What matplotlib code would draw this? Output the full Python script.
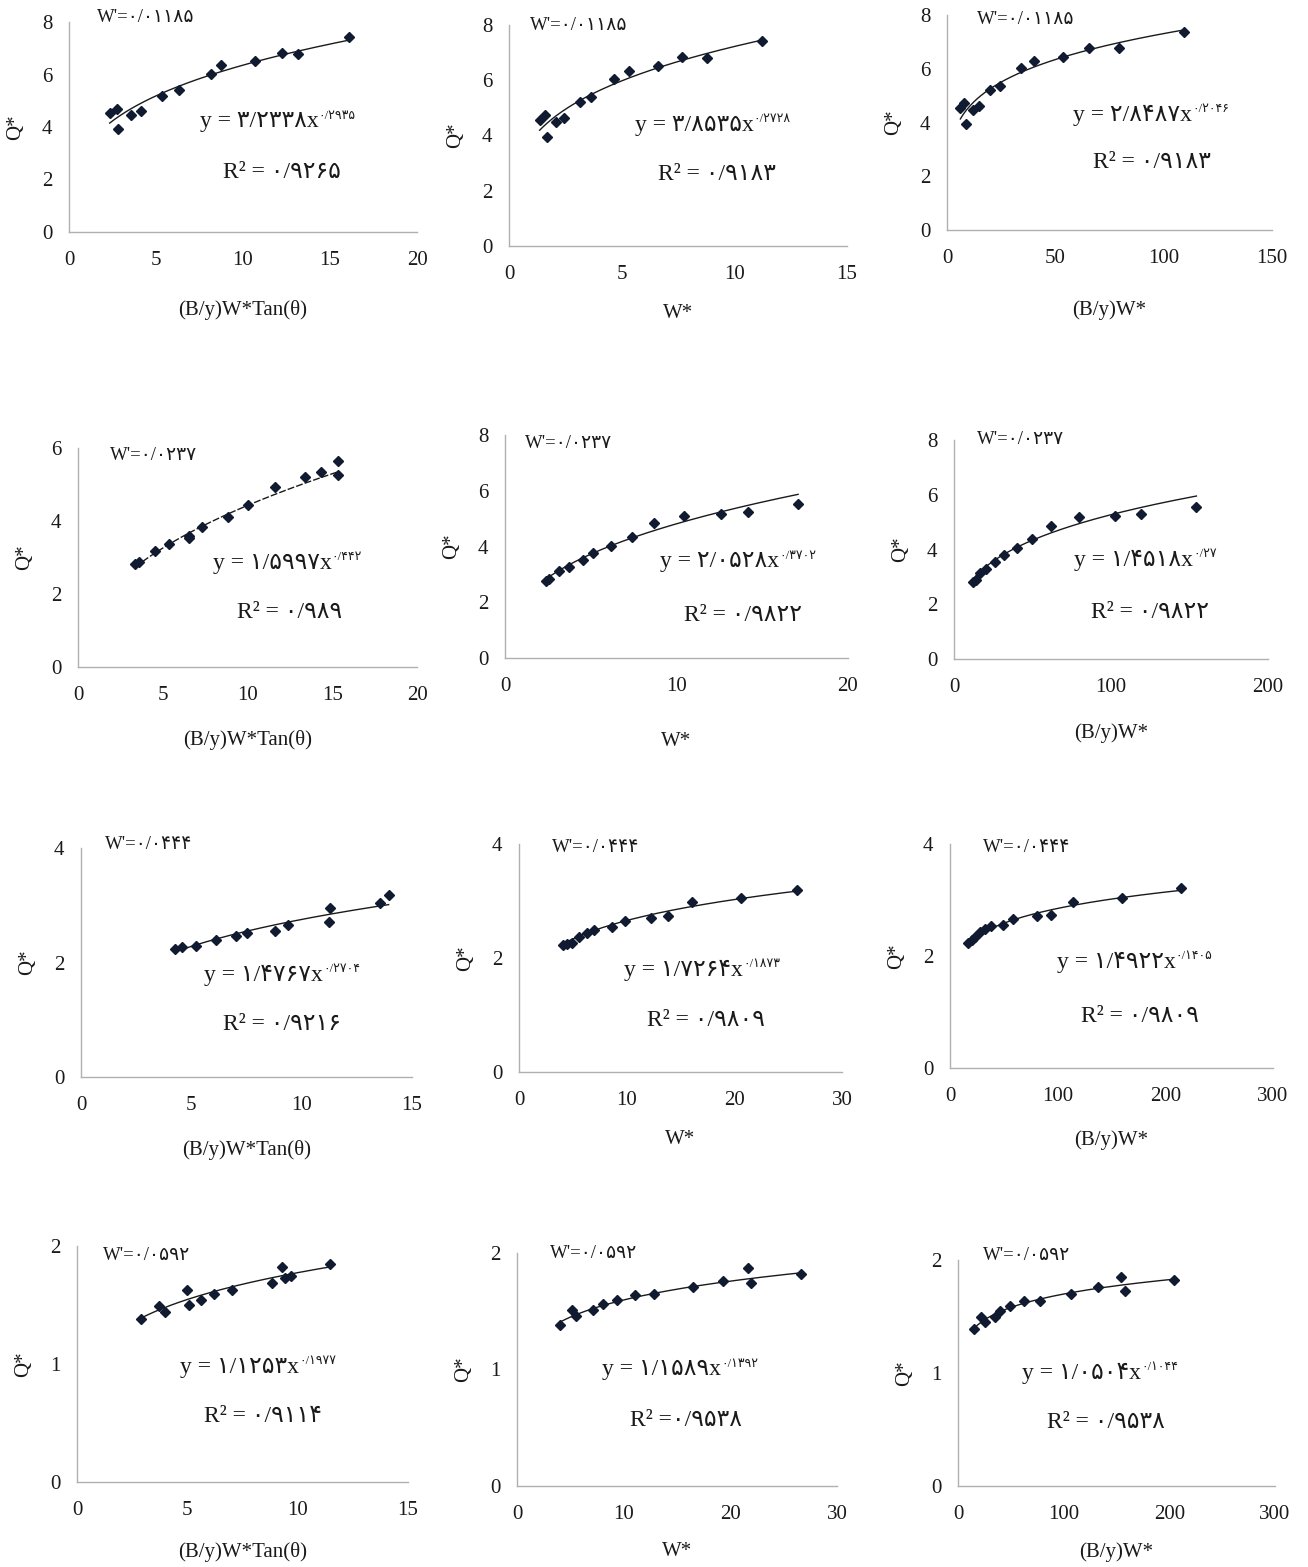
import matplotlib
matplotlib.use("Agg")
import matplotlib.pyplot as plt
import numpy as np

W_PX, H_PX = 1308, 1567
FONT = ['Liberation Serif', 'DejaVu Sans']
plt.rcParams['font.family'] = FONT

# ---------------- data ----------------
x1 = [2.34, 2.73, 2.82, 3.55, 4.11, 5.36, 6.31, 8.14, 8.71, 10.69, 12.23, 13.15, 16.07]
y1 = [4.53, 4.70, 3.91, 4.44, 4.60, 5.17, 5.40, 6.02, 6.37, 6.50, 6.83, 6.79, 7.43]
x2 = [1.36, 1.59, 1.69, 2.07, 2.43, 3.14, 3.65, 4.65, 5.32, 6.60, 7.66, 8.80, 11.22]
y2 = [4.57, 4.74, 3.96, 4.48, 4.62, 5.22, 5.40, 6.04, 6.34, 6.53, 6.85, 6.79, 7.42]
x3 = [6.15, 7.69, 8.92, 12.0, 14.6, 19.7, 24.6, 34.2, 40.0, 53.5, 65.7, 79.2, 109.2]
y3 = [4.55, 4.71, 3.94, 4.47, 4.62, 5.21, 5.37, 6.02, 6.27, 6.45, 6.76, 6.76, 7.36]
x4 = [3.38, 3.58, 4.56, 5.35, 6.53, 6.57, 7.32, 8.83, 10.01, 11.64, 13.41, 14.34, 15.33, 15.33]
y4 = [2.82, 2.89, 3.19, 3.37, 3.60, 3.53, 3.84, 4.11, 4.45, 4.93, 5.20, 5.33, 5.64, 5.27]
x5 = [2.39, 2.58, 3.17, 3.75, 4.52, 5.15, 6.16, 7.38, 8.68, 10.43, 12.62, 14.14, 17.09]
y5 = [2.78, 2.83, 3.13, 3.28, 3.50, 3.76, 4.03, 4.33, 4.84, 5.10, 5.16, 5.22, 5.53]
x6 = [12.1, 13.8, 16.3, 20.6, 25.9, 31.6, 40.3, 49.7, 62.0, 79.4, 102.8, 119.3, 154.4]
y6 = [2.81, 2.89, 3.14, 3.29, 3.53, 3.81, 4.05, 4.39, 4.86, 5.20, 5.24, 5.30, 5.57]
x7 = [4.26, 4.57, 5.20, 6.11, 7.02, 7.52, 8.80, 9.36, 11.22, 11.30, 13.56, 13.94]
y7 = [2.23, 2.27, 2.29, 2.39, 2.47, 2.51, 2.55, 2.66, 2.70, 2.96, 3.04, 3.18]
x8 = [4.12, 4.43, 4.90, 5.58, 6.29, 6.97, 8.61, 9.85, 12.27, 13.82, 16.05, 20.64, 25.81]
y8 = [2.23, 2.25, 2.27, 2.37, 2.44, 2.50, 2.55, 2.65, 2.71, 2.74, 2.98, 3.05, 3.20]
x9 = [17.0, 20.1, 23.2, 27.8, 32.5, 37.7, 49.5, 58.8, 80.4, 93.7, 113.8, 159.3, 214.3]
y9 = [2.24, 2.29, 2.34, 2.42, 2.48, 2.54, 2.55, 2.66, 2.72, 2.74, 2.96, 3.04, 3.21]
x10 = [2.92, 3.70, 3.97, 4.98, 5.06, 5.63, 6.19, 7.02, 8.85, 9.29, 9.41, 9.68, 11.45]
y10 = [1.38, 1.49, 1.44, 1.63, 1.50, 1.54, 1.59, 1.63, 1.69, 1.82, 1.73, 1.75, 1.85]
x11 = [4.07, 5.20, 5.57, 7.14, 8.08, 9.33, 11.06, 12.84, 16.47, 19.35, 21.61, 21.95, 26.62]
y11 = [1.38, 1.51, 1.46, 1.51, 1.56, 1.60, 1.64, 1.65, 1.71, 1.76, 1.87, 1.74, 1.82]
x12 = [15.2, 22.1, 25.3, 34.7, 40.1, 49.6, 62.2, 77.4, 107.4, 132.6, 154.7, 157.9, 204.3]
y12 = [1.39, 1.50, 1.45, 1.50, 1.55, 1.59, 1.64, 1.64, 1.70, 1.76, 1.85, 1.73, 1.82]

xs = [x1, x2, x3, x4, x5, x6, x7, x8, x9, x10, x11, x12]
ys = [y1, y2, y3, y4, y5, y6, y7, y8, y9, y10, y11, y12]

# power-law trendline coefficients  y = a * x**b
fit_a = [3.2338, 3.8535, 2.8487, 1.5997, 2.0528, 1.4518, 1.4767, 1.7264, 1.4922, 1.1253, 1.1589, 1.0504]
fit_b = [0.2935, 0.2728, 0.2046, 0.442, 0.3702, 0.28, 0.2704, 0.1873, 0.1405, 0.1977, 0.1392, 0.1044]

eq_main = ["y = ۳/۲۳۳۸x", "y = ۳/۸۵۳۵x", "y = ۲/۸۴۸۷x",
           "y = ۱/۵۹۹۷x", "y = ۲/۰۵۲۸x", "y = ۱/۴۵۱۸x",
           "y = ۱/۴۷۶۷x", "y = ۱/۷۲۶۴x", "y = ۱/۴۹۲۲x",
           "y = ۱/۱۲۵۳x", "y = ۱/۱۵۸۹x", "y = ۱/۰۵۰۴x"]
eq_exp = ["۰/۲۹۳۵", "۰/۲۷۲۸", "۰/۲۰۴۶",
          "۰/۴۴۲", "۰/۳۷۰۲", "۰/۲۷",
          "۰/۲۷۰۴", "۰/۱۸۷۳", "۰/۱۴۰۵",
          "۰/۱۹۷۷", "۰/۱۳۹۲", "۰/۱۰۴۴"]
r2_text = ["R² = ۰/۹۲۶۵", "R² = ۰/۹۱۸۳", "R² = ۰/۹۱۸۳",
           "R² = ۰/۹۸۹", "R² = ۰/۹۸۲۲", "R² = ۰/۹۸۲۲",
           "R² = ۰/۹۲۱۶", "R² = ۰/۹۸۰۹", "R² = ۰/۹۸۰۹",
           "R² = ۰/۹۱۱۴", "R² =۰/۹۵۳۸", "R² = ۰/۹۵۳۸"]
wprime = ["W'=۰/۰۱۱۸۵"] * 3 + ["W'=۰/۰۲۳۷"] * 3 + ["W'=۰/۰۴۴۴"] * 3 + ["W'=۰/۰۵۹۲"] * 3

xlabels = ["(B/y)W*Tan(θ)", "W*", "(B/y)W*"] * 4
ylabel = "Q*"
xmax = [20, 15, 150, 20, 20, 200, 15, 30, 300, 15, 30, 300]
xstep = [5, 5, 50, 5, 10, 100, 5, 10, 100, 5, 10, 100]
ymax = [8, 8, 8, 6, 8, 8, 4, 4, 4, 2, 2, 2]
ystep = [2, 2, 2, 2, 2, 2, 2, 2, 2, 1, 1, 1]

# ---------------- layout (pixels) ----------------
# left, bottom(x-axis), right, top
rects = [(69, 232, 417, 22), (509, 246, 847, 25), (947, 230, 1272, 15),
         (78, 667, 417, 448), (505, 658, 848, 435), (954, 659, 1268, 440),
         (81, 1077, 412, 848), (519, 1072, 842, 844), (950, 1068, 1273, 844),
         (77, 1482, 408, 1246), (517, 1486, 837, 1253), (958, 1486, 1275, 1260)]
xlab_off = [78, 67, 80, 73, 84, 74, 73, 68, 72, 70, 66, 66]
eq_pos = [(200, 122), (635, 125), (1073, 115), (213, 563), (660, 562), (1074, 560),
          (204, 975), (624, 970), (1057, 962), (180, 1367), (602, 1370), (1022, 1373)]
r2_pos = [(223, 173), (658, 175), (1093, 163), (237, 613), (684, 615), (1091, 612),
          (223, 1025), (647, 1020), (1081, 1017), (204, 1417), (630, 1420), (1047, 1422)]
wp_pos = [(97, 17), (530, 25), (977, 20), (110, 455), (525, 443), (977, 440),
          (105, 845), (552, 847), (983, 848), (103, 1255), (550, 1253), (983, 1255)]

fig = plt.figure(figsize=(W_PX / 100, H_PX / 100), dpi=100)
fig.patch.set_facecolor('white')

MARK = '#101a30'
for i in range(12):
    l, b, r, t = rects[i]
    ax = fig.add_axes([l / W_PX, 1 - b / H_PX, (r - l) / W_PX, (b - t) / H_PX])
    ax.set_xlim(0, xmax[i])
    ax.set_ylim(0, ymax[i])
    ax.set_xticks(np.arange(0, xmax[i] + 0.001, xstep[i]))
    ax.set_yticks(np.arange(0, ymax[i] + 0.001, ystep[i]))
    for s in ('top', 'right'):
        ax.spines[s].set_visible(False)
    for s in ('left', 'bottom'):
        ax.spines[s].set_color('#b0b0b0')
        ax.spines[s].set_linewidth(1.0)
    ax.tick_params(axis='both', length=0, labelsize=15, labelcolor='#1a1a1a')
    ax.tick_params(axis='x', pad=14)
    ax.tick_params(axis='y', pad=12)
    for lab in ax.get_xticklabels() + ax.get_yticklabels():
        lab.set_family(FONT)

    x = np.array(xs[i]); y = np.array(ys[i])
    xx = np.linspace(x.min(), x.max(), 200)
    ls = (0, (5, 1.5)) if i == 3 else '-'
    ax.plot(xx, fit_a[i] * xx ** fit_b[i], color='#1a1a1a', lw=1.0, ls=ls, zorder=2)
    ax.plot(x, y, ls='none', marker='D', ms=5.0, color=MARK, mec=MARK, zorder=3)

    ax.set_xlabel(xlabels[i], fontsize=15, family=FONT, color='#1a1a1a')
    hpx = b - t
    ax.xaxis.set_label_coords(0.5, -xlab_off[i] / hpx)
    ax.xaxis.label.set_va('center')
    ax.set_ylabel(ylabel, fontsize=15, family=FONT, rotation=90, color='#1a1a1a')
    ax.yaxis.set_label_coords(-53 / (r - l), 0.5)
    ax.yaxis.label.set_va('center')

    ex, ey = eq_pos[i]
    tmain = fig.text(ex / W_PX, 1 - ey / H_PX, eq_main[i], fontsize=17, family=FONT,
                     ha='left', va='center', color='#1a1a1a')
    ax.annotate(eq_exp[i], xy=(1.0, 0.8), xycoords=tmain, ha='left', va='center',
                fontsize=9, family=FONT, annotation_clip=False, color='#1a1a1a')
    rx, ry = r2_pos[i]
    fig.text(rx / W_PX, 1 - ry / H_PX, r2_text[i], fontsize=17, family=FONT,
             ha='left', va='center', color='#1a1a1a')
    wx, wy = wp_pos[i]
    fig.text(wx / W_PX, 1 - wy / H_PX, wprime[i], fontsize=13.5, family=FONT,
             ha='left', va='center', color='#1a1a1a')

fig.savefig('out.png', dpi=100, facecolor='white')
